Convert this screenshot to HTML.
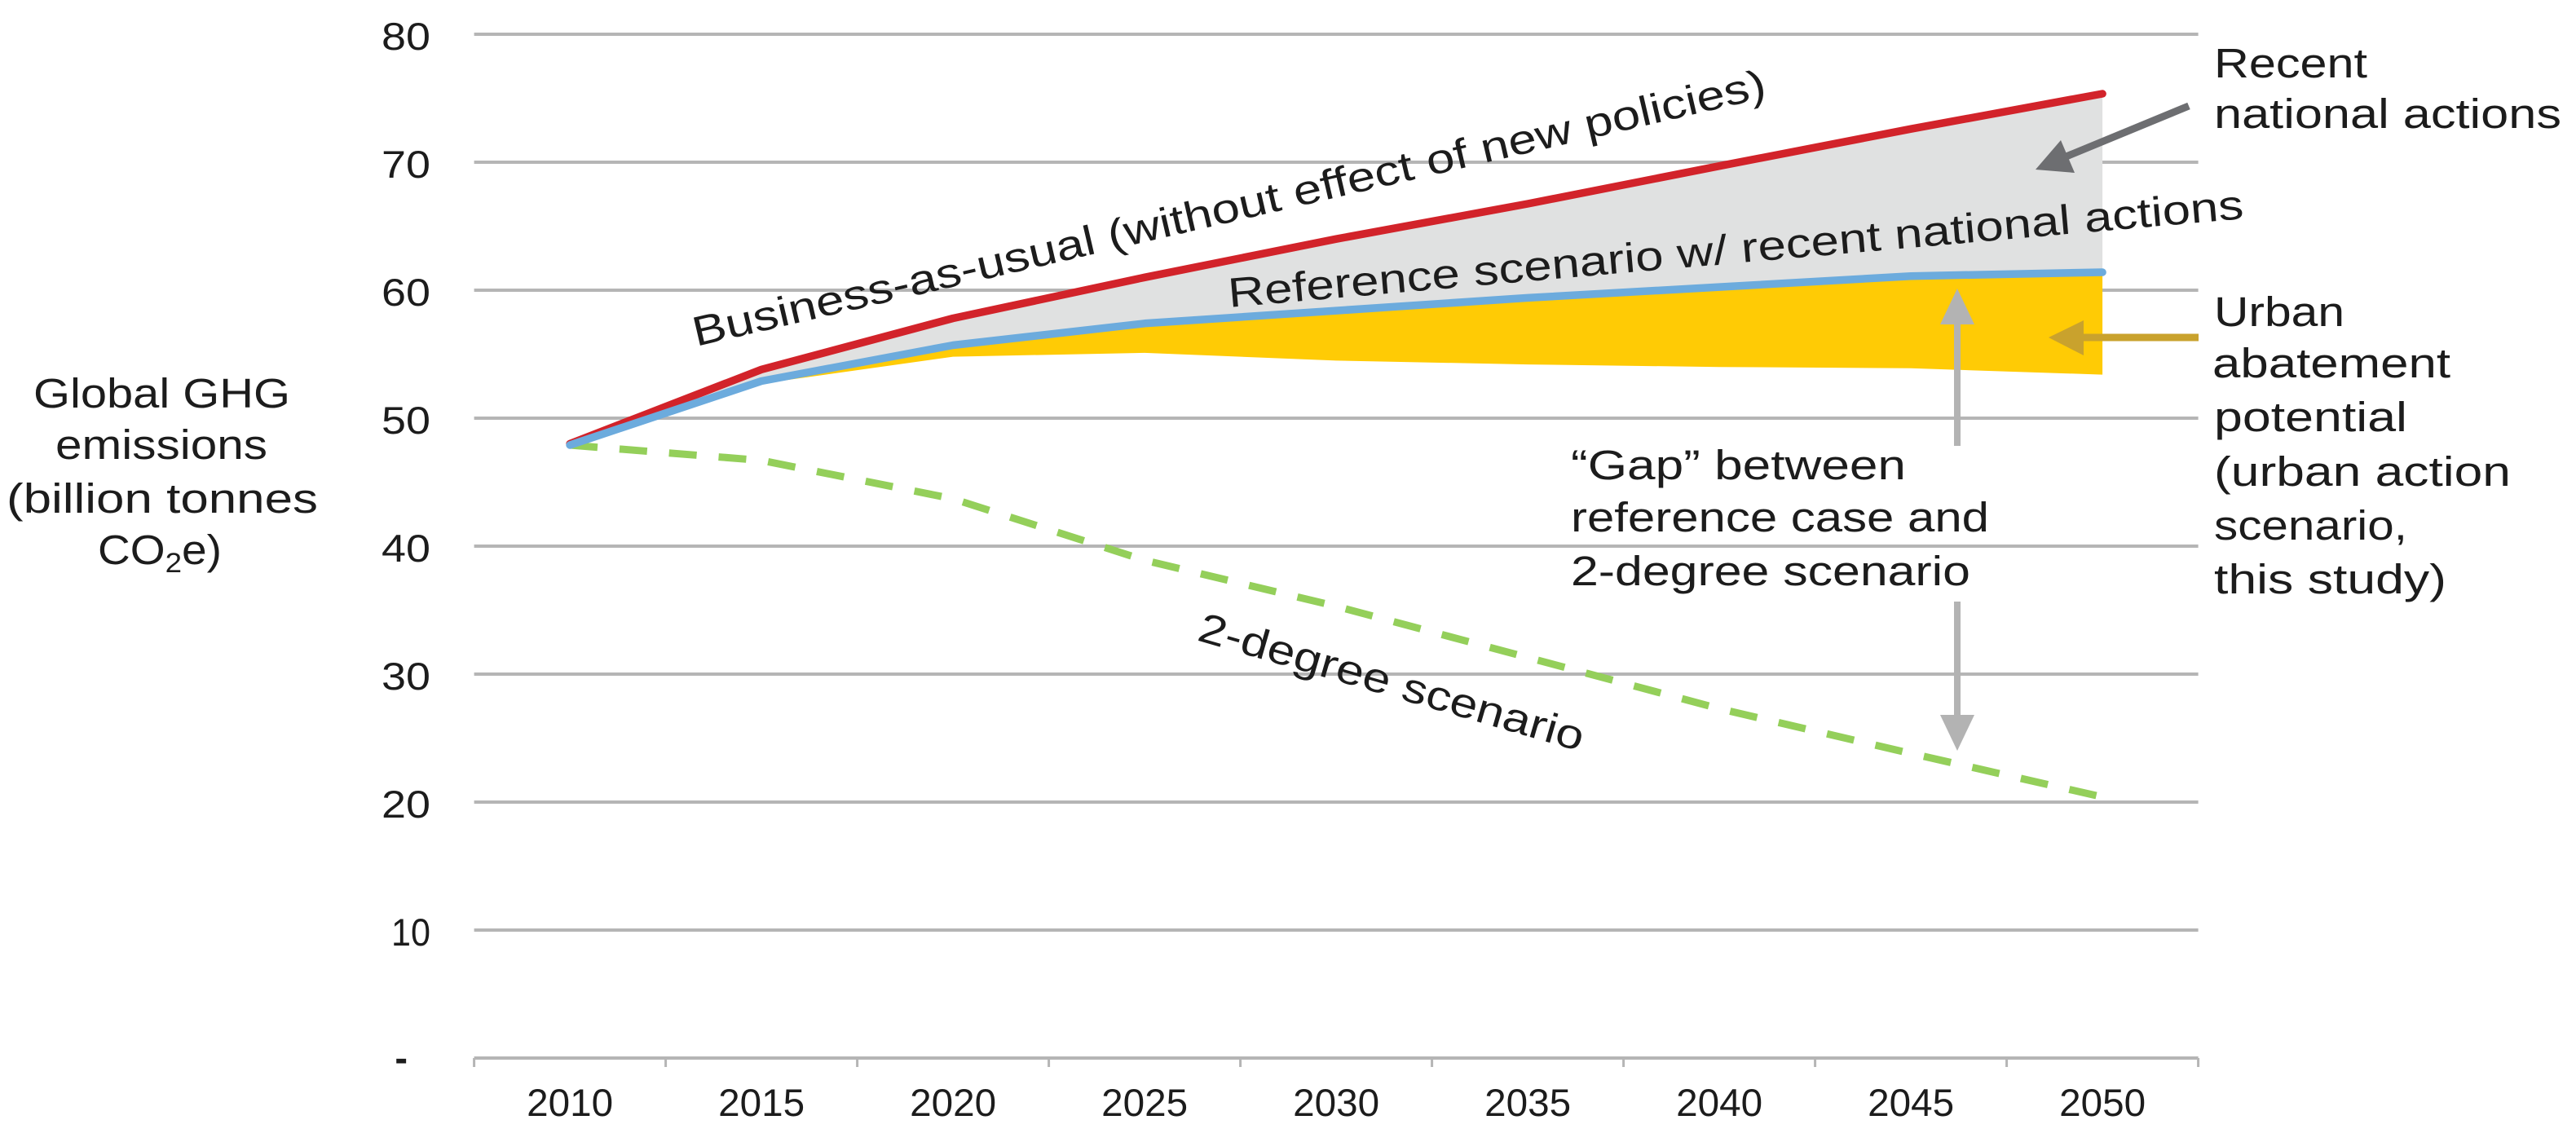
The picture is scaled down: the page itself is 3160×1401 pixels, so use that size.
<!DOCTYPE html>
<html>
<head>
<meta charset="utf-8">
<title>Global GHG emissions scenarios</title>
<style>
html,body{margin:0;padding:0;background:#fff;}
svg{display:block;}
text{font-family:"Liberation Sans",sans-serif;font-size:51px;fill:#1c1c1c;}
text.tick{font-size:47px;}
</style>
</head>
<body>
<svg id="chart" xmlns="http://www.w3.org/2000/svg" width="3160" height="1401" viewBox="0 0 3160 1401">
  <rect width="3160" height="1401" fill="#fff"/>
  <g id="grid"></g>
  <g id="xaxis"></g>
  <g id="yaxis"></g>
  <g id="series"></g>

  <g>
    <text x="41" y="500" textLength="315" lengthAdjust="spacingAndGlyphs">Global GHG</text>
    <text x="68" y="563" textLength="260" lengthAdjust="spacingAndGlyphs">emissions</text>
    <text x="8" y="629" textLength="382" lengthAdjust="spacingAndGlyphs">(billion tonnes</text>
    <text transform="translate(120,692) scale(1.08,1)">CO<tspan dy="10" style="font-size:34px">2</tspan><tspan dy="-10">e)</tspan></text>
  </g>

  <g>
    <text transform="translate(854,425) rotate(-13.1)" textLength="1350" lengthAdjust="spacingAndGlyphs">Business-as-usual (without effect of new policies)</text>
    <text transform="translate(1508,377) rotate(-5)" textLength="1250" lengthAdjust="spacingAndGlyphs">Reference scenario w/ recent national actions</text>
    <text transform="translate(1467,785) rotate(16.2)" textLength="490" lengthAdjust="spacingAndGlyphs">2-degree scenario</text>
  </g>

  <g>
    <text x="2716" y="95" textLength="188" lengthAdjust="spacingAndGlyphs">Recent</text>
    <text x="2716" y="157" textLength="426" lengthAdjust="spacingAndGlyphs">national actions</text>
    <line x1="2685" y1="130" x2="2525" y2="196" stroke="#6d6e71" stroke-width="9"/>
    <polygon points="2497,208 2528,172 2545,212" fill="#6d6e71"/>
  </g>

  <g>
    <line x1="2697" y1="414" x2="2550" y2="414" stroke="#c9a22d" stroke-width="9"/>
    <polygon points="2513,414 2556,393 2556,436" fill="#c9a22d"/>
    <text x="2716" y="400" textLength="160" lengthAdjust="spacingAndGlyphs">Urban</text>
    <text x="2714" y="463" textLength="292" lengthAdjust="spacingAndGlyphs">abatement</text>
    <text x="2716" y="529" textLength="237" lengthAdjust="spacingAndGlyphs">potential</text>
    <text x="2716" y="596" textLength="364" lengthAdjust="spacingAndGlyphs">(urban action</text>
    <text x="2716" y="662" textLength="237" lengthAdjust="spacingAndGlyphs">scenario,</text>
    <text x="2716" y="728" textLength="285" lengthAdjust="spacingAndGlyphs">this study)</text>
  </g>

  <g>
    <line x1="2401" y1="547" x2="2401" y2="395" stroke="#b3b3b3" stroke-width="8"/>
    <polygon points="2401,354 2380,398 2422,398" fill="#b3b3b3"/>
    <line x1="2401" y1="738" x2="2401" y2="880" stroke="#b3b3b3" stroke-width="8"/>
    <polygon points="2401,921 2380,877 2422,877" fill="#b3b3b3"/>
    <text x="1927" y="588" textLength="411" lengthAdjust="spacingAndGlyphs">“Gap” between</text>
    <text x="1927" y="652" textLength="513" lengthAdjust="spacingAndGlyphs">reference case and</text>
    <text x="1927" y="718" textLength="490" lengthAdjust="spacingAndGlyphs">2-degree scenario</text>
  </g>
</svg>

<script>
const categories = ['2010','2015','2020','2025','2030','2035','2040','2045','2050'];
const yTickValues = [0,10,20,30,40,50,60,70,80];
const yTickLabels = ['-','10','20','30','40','50','60','70','80'];
const businessAsUsual = [48.0,53.8,57.8,61.0,64.0,66.75,69.7,72.6,75.35];
const referenceScenario = [47.9,52.9,55.7,57.4,58.4,59.4,60.25,61.1,61.4];
const urbanActionScenario = [47.9,52.7,54.8,55.1,54.5,54.2,54.0,53.9,53.4];
const twoDegreeScenario = [47.9,46.7,43.7,38.9,35.3,31.3,27.3,23.8,20.4];

const NS = 'http://www.w3.org/2000/svg';
const plotLeft = 581.6, bandWidth = 235, y0 = 1298, yPerUnit = 15.7;
const plotRight = plotLeft + bandWidth * categories.length;
function xScale(i){ return plotLeft + bandWidth * (i + 0.5); }
function yScale(v){ return y0 - v * yPerUnit; }
function make(tag, attrs, parent){
  const el = document.createElementNS(NS, tag);
  for (const k in attrs) el.setAttribute(k, attrs[k]);
  parent.appendChild(el);
  return el;
}
function linePath(vals){
  return vals.map((v,i)=>(i?'L':'M')+xScale(i).toFixed(1)+' '+yScale(v).toFixed(1)).join(' ');
}
function bandPath(top,bottom){
  const a = top.map((v,i)=>xScale(i).toFixed(1)+','+yScale(v).toFixed(1));
  const b = bottom.map((v,i)=>xScale(i).toFixed(1)+','+yScale(v).toFixed(1)).reverse();
  return a.concat(b).join(' ');
}

const grid = document.getElementById('grid');
const yaxis = document.getElementById('yaxis');
const xaxis = document.getElementById('xaxis');
const series = document.getElementById('series');

yTickValues.forEach(function(v,i){
  const gl = make('line',{x1:plotLeft,x2:plotRight,y1:yScale(v),y2:yScale(v),stroke:'#b5b5b5','stroke-width':4},grid);
  
  
  const label = yTickLabels[i];
  const isZero = label === '-';
  const t = make('text',{x:isZero?500:528,y:yScale(v)+(isZero?16:19),'text-anchor':'end',class:'tick'},yaxis);
  t.textContent = label;
  if (isZero) {
    t.style.fontWeight = 'bold';
  } else {
    t.setAttribute('textLength', label === '10' ? 48 : 60);
    t.setAttribute('lengthAdjust', 'spacingAndGlyphs');
  }
  
  
});

categories.forEach(function(c,i){
  const tk = make('line',{x1:plotLeft+bandWidth*i,x2:plotLeft+bandWidth*i,y1:y0,y2:y0+11,stroke:'#b5b5b5','stroke-width':3},xaxis);
  
  
  const t = make('text',{x:xScale(i),y:1369,'text-anchor':'middle',class:'tick',textLength:106,lengthAdjust:'spacingAndGlyphs'},xaxis);
  t.textContent = c;
  
  
});
const lastTick = make('line',{x1:plotRight,x2:plotRight,y1:y0,y2:y0+11,stroke:'#b5b5b5','stroke-width':3},xaxis);



const nationalBand = make('polygon',{points:bandPath(businessAsUsual,referenceScenario),fill:'#e0e1e1'},series);



const urbanBand = make('polygon',{points:bandPath(referenceScenario,urbanActionScenario),fill:'#ffcb05'},series);



const greenLine = make('path',{d:linePath(twoDegreeScenario),fill:'none',stroke:'#94cf5a','stroke-width':9,'stroke-dasharray':'34 27','stroke-linecap':'butt'},series);



const redLine = make('path',{d:linePath(businessAsUsual),fill:'none',stroke:'#d2232a','stroke-width':9.5,'stroke-linecap':'round','stroke-linejoin':'round'},series);



const blueLine = make('path',{d:linePath(referenceScenario),fill:'none',stroke:'#6cabdd','stroke-width':9.5,'stroke-linecap':'round','stroke-linejoin':'round'},series);


</script>
</body>
</html>
